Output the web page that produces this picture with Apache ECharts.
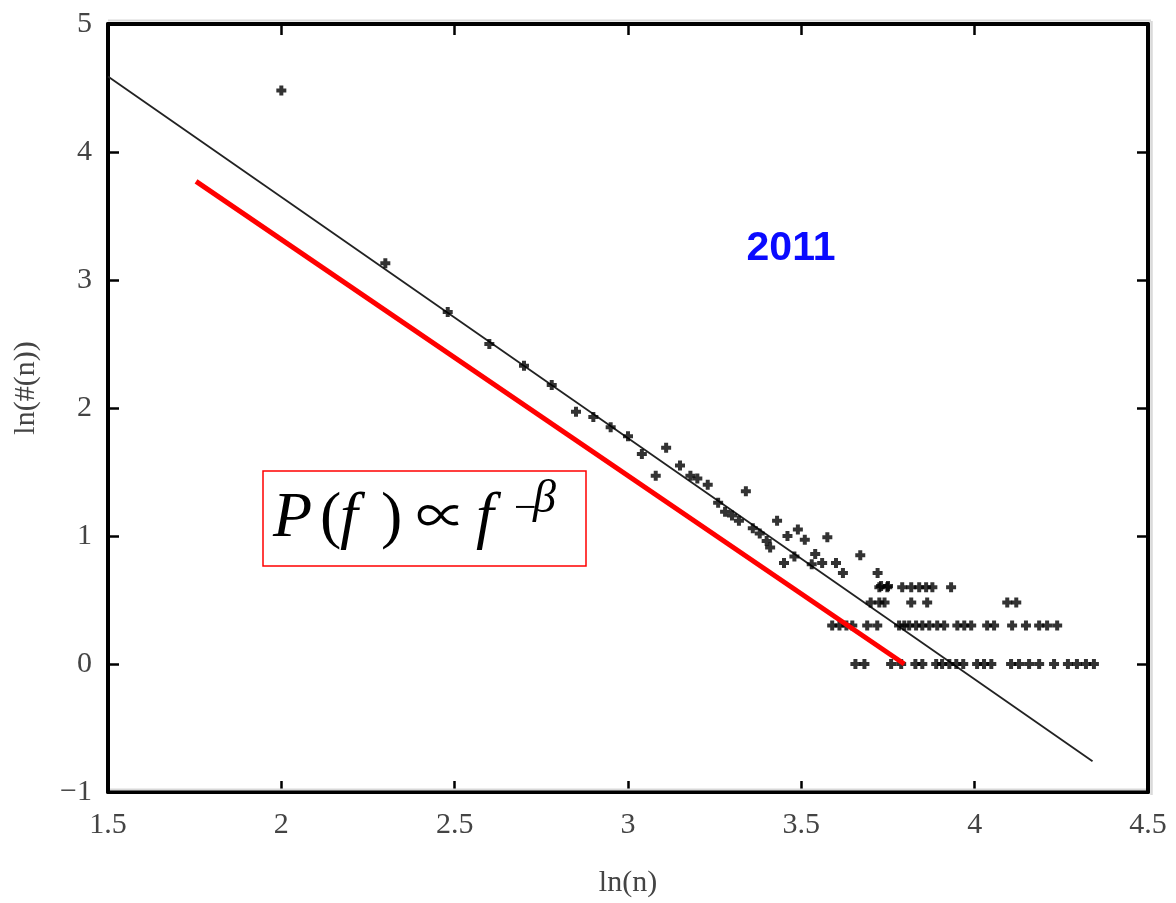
<!DOCTYPE html>
<html>
<head>
<meta charset="utf-8">
<title>ln(#(n)) vs ln(n) — 2011</title>
<script src="https://cdn.jsdelivr.net/npm/echarts@6/dist/echarts.min.js"></script>
<style>
  html, body { margin: 0; padding: 0; background: #ffffff; }
  #chart { width: 1176px; height: 903px; }
</style>
</head>
<body>
<div id="chart"></div>
<script>
// Axis ranges and ticks
const xTicks = [1.5, 2, 2.5, 3, 3.5, 4, 4.5];
const yTicks = [-1, 0, 1, 2, 3, 4, 5];

// Scattered observations above the count floor: [ln(n), ln(#(n))]
const headPoints = [
  [2.00, 4.48], [2.30, 3.13], [2.48, 2.75], [2.60, 2.50], [2.70, 2.33],
  [2.78, 2.18], [2.85, 1.97], [2.90, 1.93], [2.95, 1.85], [3.00, 1.78],
  [3.04, 1.64], [3.08, 1.47], [3.11, 1.69], [3.15, 1.55], [3.18, 1.47],
  [3.20, 1.45], [3.23, 1.40], [3.26, 1.26], [3.28, 1.19], [3.30, 1.16],
  [3.32, 1.12], [3.34, 1.35], [3.36, 1.06], [3.38, 1.02], [3.40, 0.96],
  [3.41, 0.91], [3.43, 1.12], [3.45, 0.79], [3.46, 1.00], [3.48, 0.84],
  [3.49, 1.05], [3.51, 0.97], [3.53, 0.78], [3.54, 0.86], [3.56, 0.79],
  [3.575, 0.99], [3.60, 0.79], [3.62, 0.71], [3.67, 0.85], [3.72, 0.71],
  [3.73, 0.61], [3.75, 0.61], [3.70, 0.48], [3.74, 0.48]
];

// Points on the discrete low-count rows (x positions per row)
const row060X = [3.725, 3.748, 3.791, 3.817, 3.840, 3.860, 3.878, 3.932];
const row048X = [3.725, 3.817, 3.863, 4.094, 4.120];
const row030X = [3.589, 3.610, 3.630, 3.647, 3.690, 3.719, 3.782, 3.797,
                 3.811, 3.831, 3.849, 3.869, 3.892, 3.912, 3.950, 3.970,
                 3.990, 4.036, 4.056, 4.108, 4.148, 4.186, 4.209, 4.238];
const row000X = [3.656, 3.682, 3.759, 3.788, 3.829, 3.849, 3.889, 3.906,
                 3.927, 3.947, 3.967, 4.007, 4.027, 4.048, 4.105, 4.128,
                 4.157, 4.186, 4.229, 4.269, 4.295, 4.321, 4.344];
const rowLevels = { row060X: 0.60, row048X: 0.48, row030X: 0.30, row000X: 0.0 };

// Fitted line and the reference power-law slope
const fitX = [1.5, 4.34];
const fitY = [4.59, -0.76];
const slopeX = [1.754, 3.797];
const slopeY = [3.77, 0.0];

const scatterData = headPoints.slice();
[['row060X', row060X], ['row048X', row048X], ['row030X', row030X], ['row000X', row000X]]
  .forEach(([k, xs]) => xs.forEach(x => scatterData.push([x, rowLevels[k]])));

const serif = 'Liberation Serif, "DejaVu Serif", serif';
const labelColor = '#444';
const plusPath = 'path://M3,0H7V3H10V7H7V10H3V7H0V3H3Z';

const frameAxis = {
  type: 'value',
  axisLine: { show: true, onZero: false, lineStyle: { color: '#000', width: 4 } },
  axisTick: { show: true, inside: true, length: 11, lineStyle: { color: '#000', width: 2.5 } },
  splitLine: { show: false }
};

const chart = echarts.init(document.getElementById('chart'), null, { renderer: 'canvas' });

const option = {
  backgroundColor: '#ffffff',
  animation: false,
  grid: { left: 108, right: 28, top: 24, bottom: 110 },
  xAxis: [
    Object.assign({}, frameAxis, {
      position: 'bottom',
      min: xTicks[0], max: xTicks[xTicks.length - 1], interval: 0.5,
      axisLabel: {
        color: labelColor, fontFamily: serif, fontSize: 30, margin: 18,
        formatter: v => String(v)
      },
      name: 'ln(n)', nameLocation: 'middle', nameGap: 76,
      nameTextStyle: { color: labelColor, fontFamily: serif, fontSize: 30 }
    }),
    Object.assign({}, frameAxis, {
      position: 'top',
      min: xTicks[0], max: xTicks[xTicks.length - 1], interval: 0.5,
      axisLabel: { show: false }
    })
  ],
  yAxis: [
    Object.assign({}, frameAxis, {
      position: 'left',
      min: yTicks[0], max: yTicks[yTicks.length - 1], interval: 1,
      axisLabel: {
        color: labelColor, fontFamily: serif, fontSize: 30, margin: 16,
        formatter: v => (v < 0 ? '\u2212' + Math.abs(v) : String(v))
      }
    }),
    Object.assign({}, frameAxis, {
      position: 'right',
      min: yTicks[0], max: yTicks[yTicks.length - 1], interval: 1,
      axisLabel: { show: false }
    })
  ],
  series: [
    {
      name: 'fit',
      type: 'line',
      data: fitX.map((x, i) => [x, fitY[i]]),
      showSymbol: false,
      lineStyle: { color: '#222', width: 1.8 },
      z: 3
    },
    {
      name: 'counts',
      type: 'scatter',
      data: scatterData,
      symbol: plusPath,
      symbolSize: 10,
      itemStyle: { color: '#000' },
      z: 4
    },
    {
      name: 'slope',
      type: 'line',
      data: slopeX.map((x, i) => [x, slopeY[i]]),
      showSymbol: false,
      lineStyle: { color: '#ff0000', width: 5 },
      z: 5
    }
  ],
  graphic: [
    // soft grey edge along the frame
    { type: 'line', shape: { x1: 108, y1: 20.5, x2: 1151, y2: 20.5 }, style: { stroke: '#d9d9d9', lineWidth: 2 }, z: 1 },
    { type: 'line', shape: { x1: 110, y1: 789.5, x2: 1146, y2: 789.5 }, style: { stroke: '#d9d9d9', lineWidth: 2 }, z: 1 },
    { type: 'line', shape: { x1: 1151.5, y1: 21, x2: 1151.5, y2: 795 }, style: { stroke: '#d9d9d9', lineWidth: 2.5 }, z: 1 },
    // y axis title
    {
      type: 'text', x: 26, y: 388, rotation: Math.PI / 2,
      style: { text: 'ln(#(n))', fill: labelColor, font: '30px ' + serif, align: 'center', verticalAlign: 'middle' }
    },
    // year tag
    {
      type: 'text', x: 791, y: 249,
      style: { text: '2011', fill: '#0a0aff', font: 'bold 41px "Liberation Sans", Arial, sans-serif', align: 'center', verticalAlign: 'middle' }
    },
    // formula box
    {
      type: 'rect', shape: { x: 263, y: 471, width: 323, height: 95 },
      style: { fill: 'none', stroke: '#ff0000', lineWidth: 1.5 }
    },
    { type: 'text', x: 273, y: 519, style: { text: 'P', fill: '#000', font: 'italic 64px ' + serif, verticalAlign: 'middle' } },
    { type: 'text', x: 320, y: 519, style: { text: '(', fill: '#000', font: '64px ' + serif, verticalAlign: 'middle' } },
    { type: 'text', x: 340, y: 519, style: { text: 'f', fill: '#000', font: 'italic 64px ' + serif, verticalAlign: 'middle' } },
    { type: 'text', x: 381, y: 519, style: { text: ')', fill: '#000', font: '64px ' + serif, verticalAlign: 'middle' } },
    { type: 'text', x: 441, y: 515, style: { text: '\u221D', fill: '#000', font: '50px "Noto Sans CJK JP", "Noto Sans CJK SC", serif', align: 'center', verticalAlign: 'middle' } },
    { type: 'text', x: 476, y: 519, style: { text: 'f', fill: '#000', font: 'italic 64px ' + serif, verticalAlign: 'middle' } },
    { type: 'text', x: 514, y: 509, style: { text: '\u2212', fill: '#000', font: '40px ' + serif, verticalAlign: 'middle' } },
    { type: 'text', x: 533, y: 500, style: { text: '\u03B2', fill: '#000', font: 'italic 46px ' + serif, verticalAlign: 'middle' } }
  ]
};

chart.setOption(option);
</script>
</body>
</html>
